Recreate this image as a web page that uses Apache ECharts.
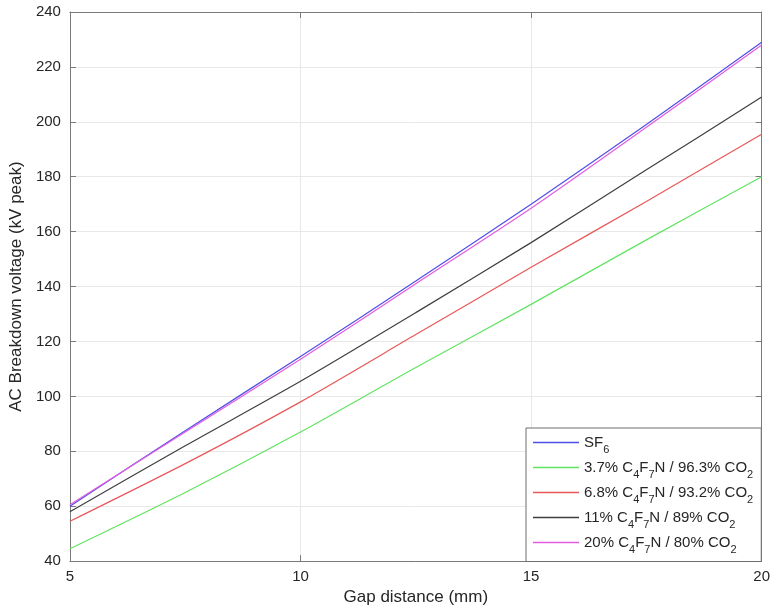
<!DOCTYPE html>
<html>
<head>
<meta charset="utf-8">
<script src="https://cdn.jsdelivr.net/npm/echarts@6/dist/echarts.min.js"></script>
<style>html,body{margin:0;padding:0;background:#fff;}#c{width:773px;height:611px;}</style>
</head>
<body>
<div id="c"></div>
<script>
const gap = [5, 7.5, 10, 12.5, 15, 17.5, 20];
const sf6 = [60, 87.5, 114.5, 142, 170, 199, 229];
const mix37 = [44.5, 65, 87, 110.5, 133.5, 157, 180];
const mix68 = [54.5, 75.5, 98, 122.5, 147, 171, 195.5];
const mix11 = [58, 82, 105.5, 130.5, 156, 182.5, 209];
const mix20 = [60.5, 87, 113.5, 141, 168.5, 198, 228];
const xTicks = [5, 10, 15, 20];
const yTicks = [40, 60, 80, 100, 120, 140, 160, 180, 200, 220, 240];

const seriesNames = ['SF6', '3.7% C4F7N / 96.3% CO2', '6.8% C4F7N / 93.2% CO2', '11% C4F7N / 89% CO2', '20% C4F7N / 80% CO2'];
const seriesData = [sf6, mix37, mix68, mix11, mix20];
const colors = ['#4f4fe6', '#62e462', '#e85858', '#3f3f3f', '#e25ce2'];
const legendRich = {
  'SF6': '{n|SF}{s|6}',
  '3.7% C4F7N / 96.3% CO2': '{n|3.7% C}{s|4}{n|F}{s|7}{n|N / 96.3% CO}{s|2}',
  '6.8% C4F7N / 93.2% CO2': '{n|6.8% C}{s|4}{n|F}{s|7}{n|N / 93.2% CO}{s|2}',
  '11% C4F7N / 89% CO2': '{n|11% C}{s|4}{n|F}{s|7}{n|N / 89% CO}{s|2}',
  '20% C4F7N / 80% CO2': '{n|20% C}{s|4}{n|F}{s|7}{n|N / 80% CO}{s|2}'
};

const font = 'Liberation Sans, Arial, Helvetica, sans-serif';
const chart = echarts.init(document.getElementById('c'), null, {renderer: 'canvas'});
const axisLineStyle = {color: '#7a7a7a', width: 1};
const textColor = '#262626';

const series = seriesNames.map((name, i) => ({
  name: name,
  type: 'line',
  xAxisIndex: 0,
  yAxisIndex: 0,
  data: gap.map((g, j) => [g, seriesData[i][j]]),
  smooth: 0.25,
  showSymbol: false,
  symbol: 'none',
  lineStyle: {color: colors[i], width: 1.2},
  itemStyle: {color: colors[i]},
  z: 3 + i
}));

chart.setOption({
  animation: false,
  backgroundColor: '#ffffff',
  grid: {left: 67, right: 10, top: 12, bottom: 48, containLabel: false},
  xAxis: [{
    type: 'value', min: 5, max: 20, interval: 5, position: 'bottom',
    name: 'Gap distance (mm)', nameLocation: 'middle', nameGap: 27,
    nameTextStyle: {fontFamily: font, fontSize: 17, color: textColor},
    axisLine: {show: true, onZero: false, lineStyle: axisLineStyle},
    axisTick: {show: true, inside: true, length: 6, lineStyle: axisLineStyle},
    axisLabel: {fontFamily: font, fontSize: 15, color: textColor, margin: 8},
    splitLine: {show: true, lineStyle: {color: '#e8e8e8', width: 1}}
  }, {
    type: 'value', min: 5, max: 20, interval: 5, position: 'top',
    axisLine: {show: true, onZero: false, lineStyle: axisLineStyle},
    axisTick: {show: true, inside: true, length: 6, lineStyle: axisLineStyle},
    axisLabel: {show: false}, splitLine: {show: false}
  }],
  yAxis: [{
    type: 'value', min: 40, max: 240, interval: 20, position: 'left',
    name: 'AC Breakdown voltage (kV peak)', nameLocation: 'middle', nameGap: 39, nameRotate: 90,
    nameTextStyle: {fontFamily: font, fontSize: 17, color: textColor},
    axisLine: {show: true, onZero: false, lineStyle: axisLineStyle},
    axisTick: {show: true, inside: true, length: 6, lineStyle: axisLineStyle},
    axisLabel: {fontFamily: font, fontSize: 15, color: textColor, margin: 9},
    splitLine: {show: true, lineStyle: {color: '#e8e8e8', width: 1}}
  }, {
    type: 'value', min: 40, max: 240, interval: 20, position: 'right',
    axisLine: {show: true, onZero: false, lineStyle: axisLineStyle},
    axisTick: {show: true, inside: true, length: 6, lineStyle: axisLineStyle},
    axisLabel: {show: false}, splitLine: {show: false}
  }],
  legend: {
    orient: 'vertical',
    left: 526, top: 428,
    padding: [7, 8, 6, 7],
    itemGap: 4.5,
    icon: 'rect',
    itemWidth: 46, itemHeight: 1.3,
    backgroundColor: '#ffffff',
    borderColor: '#6e6e6e', borderWidth: 1, borderRadius: 0,
    data: seriesNames,
    formatter: name => legendRich[name],
    textStyle: {
      fontFamily: font, fontSize: 15, color: textColor,
      rich: {
        n: {fontFamily: font, fontSize: 15, color: textColor, lineHeight: 18, verticalAlign: 'middle'},
        s: {fontFamily: font, fontSize: 11, color: textColor, lineHeight: 18, verticalAlign: 'bottom', padding: [0, 0, -4, 0]}
      }
    }
  },
  series: series
});
</script>
</body>
</html>
